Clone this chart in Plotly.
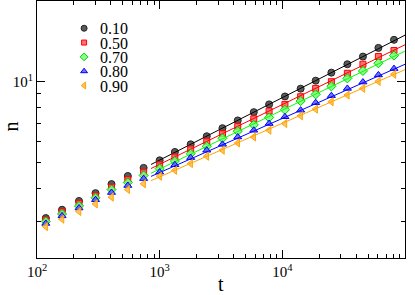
import plotly.graph_objects as go

# ---------------- data ----------------
t = [118, 160, 220, 300, 405, 550, 740, 1000, 1330, 1790, 2420, 3250, 4330,
     5850, 7800, 10500, 14100, 18700, 25100, 33900, 45400, 60700, 81300]

n_010 = [3.10, 3.33, 3.59, 3.84, 4.15, 4.45, 4.77, 5.09, 5.47, 5.84, 6.26, 6.71,
         7.17, 7.70, 8.23, 8.81, 9.42, 10.09, 10.81, 11.62, 12.41, 13.37, 14.33]
n_050 = [3.05, 3.27, 3.52, 3.75, 4.04, 4.32, 4.60, 4.90, 5.24, 5.61, 6.00, 6.41,
         6.82, 7.27, 7.77, 8.23, 8.79, 9.44, 10.00, 10.75, 11.62, 12.41, 13.07]
n_070 = [3.01, 3.21, 3.44, 3.69, 3.96, 4.21, 4.47, 4.74, 5.06, 5.39, 5.74, 6.15,
         6.54, 6.90, 7.35, 7.86, 8.47, 8.97, 9.61, 10.29, 10.97, 11.72, 12.52]
n_080 = [2.96, 3.16, 3.38, 3.63, 3.86, 4.10, 4.35, 4.60, 4.90, 5.21, 5.55, 5.84,
         6.22, 6.59, 6.98, 7.40, 7.83, 8.35, 8.87, 9.44, 9.97, 10.60, 11.19]
n_090 = [2.88, 3.07, 3.28, 3.50, 3.71, 3.96, 4.16, 4.44, 4.67, 4.95, 5.27, 5.55,
         5.91, 6.22, 6.59, 6.98, 7.46, 7.90, 8.42, 8.92, 9.44, 10.03, 10.66]

labels = ["0.10", "0.50", "0.70", "0.80", "0.90"]

# power-law fits n = A * t^b, drawn from t_fit[0] to t_fit[1]
fit_A = [1.02, 1.054, 1.033, 1.135, 1.109]
fit_b = [0.233, 0.223, 0.220, 0.202, 0.200]
t_fit = [850, 100000]

x_ticks = [100, 1000, 10000, 100000]
x_ticktext = ["10<sup>2</sup>", "10<sup>3</sup>", "10<sup>4</sup>", "10<sup>5</sup>"]
y_ticks = [10]
y_ticktext = ["10<sup>1</sup>"]

# ---------------- style ----------------
series = [n_010, n_050, n_070, n_080, n_090]
symbols = ["circle", "square", "diamond", "triangle-up", "triangle-left"]
fills = ["#5a5a5a", "rgba(255,90,90,0.85)", "rgba(120,255,120,0.85)",
         "rgba(90,90,255,0.85)", "rgba(255,190,90,0.9)"]
edges = ["#222222", "#ff0000", "#00d000", "#0000ff", "#ffa500"]
lines = ["#000000", "#ff0000", "#00ff00", "#0000ff", "#ffa500"]
sizes = [7, 6, 7, 7, 7]

FONT = "Liberation Serif, Times New Roman, serif"

fig = go.Figure()

for i, ys in enumerate(series):
    fig.add_trace(go.Scatter(
        x=t, y=ys, mode="markers", showlegend=False,
        marker=dict(symbol=symbols[i], size=sizes[i], color=fills[i],
                    line=dict(color=edges[i], width=1))))
    fit_y = [fit_A[i] * tt ** fit_b[i] for tt in t_fit]
    fig.add_trace(go.Scatter(
        x=t_fit, y=fit_y, mode="lines", showlegend=False,
        line=dict(color=lines[i], width=1)))

# custom compact legend (marker on an overlay axis, text as annotation)
leg_x_marker = 0.128
leg_x_text = 0.168
leg_y0 = 0.894
leg_dy = 0.0557
for i, lab in enumerate(labels):
    yy = leg_y0 - i * leg_dy
    fig.add_trace(go.Scatter(
        x=[leg_x_marker], y=[yy], xaxis="x2", yaxis="y2", mode="markers",
        showlegend=False, hoverinfo="skip",
        marker=dict(symbol=symbols[i], size=sizes[i] - 1, color=fills[i],
                    line=dict(color=edges[i], width=1))))
    fig.add_annotation(x=leg_x_text, y=yy, xref="paper", yref="paper",
                       text=lab, showarrow=False, xanchor="left",
                       yanchor="middle", height=14, borderpad=0,
                       font=dict(family=FONT, size=16, color="black"))

# axis titles
fig.add_annotation(x=0.5, y=-0.1, xref="paper", yref="paper", text="t",
                   showarrow=False, xanchor="center", yanchor="middle",
                   height=18, borderpad=0,
                   font=dict(family=FONT, size=20, color="black"))
fig.add_annotation(x=-0.072, y=0.51, xref="paper", yref="paper", text="n",
                   showarrow=False, xanchor="center", yanchor="middle",
                   textangle=-90,
                   font=dict(family=FONT, size=20, color="black"))

axis_common = dict(
    type="log", showgrid=False, zeroline=False, showline=True,
    linecolor="black", linewidth=1, mirror="ticks", ticks="inside",
    ticklen=8, tickwidth=1, tickcolor="black", automargin=False,
    tickfont=dict(family=FONT, size=15, color="black"),
    minor=dict(ticks="inside", ticklen=4, tickcolor="black", dtick="D1",
               showgrid=False),
)

fig.update_layout(
    width=415, height=295,
    margin=dict(l=37, r=10, t=1, b=37),
    paper_bgcolor="white", plot_bgcolor="white",
    showlegend=False,
    font=dict(family=FONT, color="black"),
    xaxis=dict(axis_common, range=[2, 5], tickmode="array",
               tickvals=x_ticks, ticktext=x_ticktext),
    yaxis=dict(axis_common, range=[0.3424, 1.30103], tickmode="array",
               tickvals=y_ticks, ticktext=y_ticktext),
    xaxis2=dict(overlaying="x", range=[0, 1], visible=False),
    yaxis2=dict(overlaying="y", range=[0, 1], visible=False),
)

fig.write_html("out.html",
               config={"displayModeBar": False},
               post_script="document.body.style.margin='0px';"
                           "document.body.style.overflow='hidden';")
